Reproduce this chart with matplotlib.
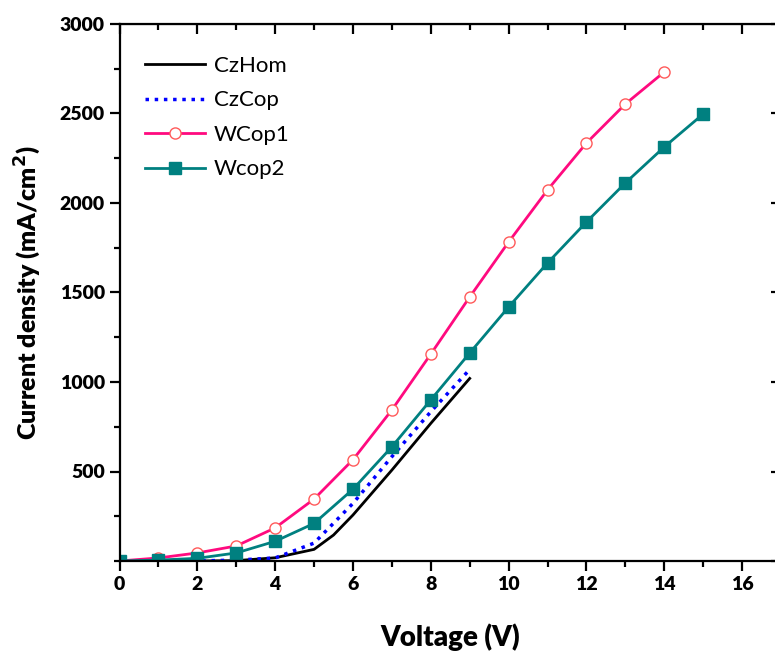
import numpy as np
import matplotlib.pyplot as plt
from matplotlib.ticker import MultipleLocator

# datos
v_hom = [0, 1, 2, 3, 4, 5, 5.5, 6, 7, 8, 9]
j_hom = [0, 0, 0, 2, 18, 65, 145, 257, 508, 769, 1020]

v_cop = [0, 1, 2, 3, 4, 5, 6, 7, 8, 9]
j_cop = [0, 0, 0, 5, 17, 100, 322, 583, 834, 1070]

v_w1 = [0, 1, 2, 3, 4, 5, 6, 7, 8, 9, 10, 11, 12, 13, 14]
j_w1 = [0, 17, 45, 84, 185, 346, 566, 844, 1156, 1475, 1782, 2073, 2335, 2553, 2732]

v_w2 = [0, 1, 2, 3, 4, 5, 6, 7, 8, 9, 10, 11, 12, 13, 14, 15]
j_w2 = [0, 5, 15, 45, 110, 210, 401, 638, 900, 1162, 1419, 1665, 1894, 2112, 2313, 2497]

plt.rcParams['font.family'] = ['Lato', 'DejaVu Sans']
plt.rcParams['font.weight'] = 'heavy'

fig = plt.figure(figsize=(7.75, 6.55), dpi=100)
ax = fig.add_axes([119.5 / 775, 94 / 655, (781 - 119.5) / 775, 537 / 655])

ax.plot(v_hom, j_hom, '-', color='black', lw=2, label='CzHom')
ax.plot(v_cop, j_cop, ':', color='blue', lw=2.5, label='CzCop')
ax.plot(v_w1, j_w1, '-o', color='#FF0A7F', lw=2, ms=8, mfc='white',
        mec='#FF5A5A', mew=1, label='WCop1')
ax.plot(v_w2, j_w2, '-s', color='#008080', lw=2, ms=8, label='Wcop2')

ax.set_xlim(0, 17)
ax.set_ylim(0, 3000)
ax.xaxis.set_major_locator(MultipleLocator(2))
ax.xaxis.set_minor_locator(MultipleLocator(1))
ax.set_yticks([500, 1000, 1500, 2000, 2500, 3000])
ax.yaxis.set_minor_locator(MultipleLocator(250))

for s in ax.spines.values():
    s.set_linewidth(1.6)

ax.tick_params(which='major', direction='out', length=7, width=1.6,
               labelsize=14)
ax.tick_params(which='minor', direction='out', length=4, width=1.6)

# ticks espejo hacia adentro (arriba y derecha)
top = ax.secondary_xaxis('top')
top.xaxis.set_major_locator(MultipleLocator(2))
top.xaxis.set_minor_locator(MultipleLocator(1))
top.tick_params(which='major', direction='in', length=7, width=1.6, labeltop=False)
top.tick_params(which='minor', direction='in', length=4, width=1.6)
right = ax.secondary_yaxis('right')
right.yaxis.set_major_locator(MultipleLocator(500))
right.yaxis.set_minor_locator(MultipleLocator(250))
right.tick_params(which='major', direction='in', length=7, width=1.6, labelright=False)
right.tick_params(which='minor', direction='in', length=4, width=1.6)

ax.set_xlabel('Voltage (V)', fontsize=20, fontweight='heavy', labelpad=22)
ax.set_ylabel('Current density (mA/cm$^\\mathbf{2}$)', fontsize=18,
              fontweight='heavy', labelpad=12)

ax.legend(loc='upper left', frameon=False, prop={'size': 16, 'weight': 'normal'},
          handlelength=2.7, labelspacing=0.65, handletextpad=0.4,
          borderaxespad=0.0, bbox_to_anchor=(0.025, 0.957))

fig.savefig('out.png', dpi=100)
